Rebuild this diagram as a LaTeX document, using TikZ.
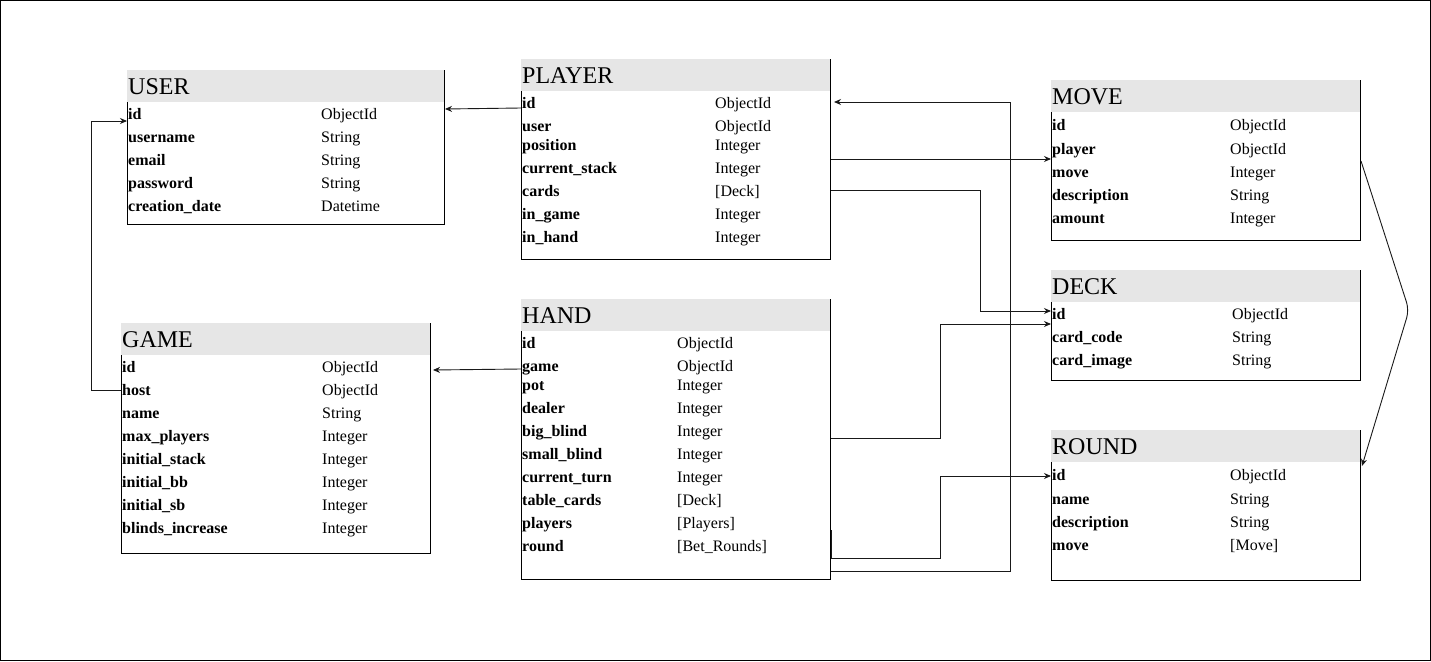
\documentclass[tikz,border=0pt]{standalone}
\usepackage{fontspec}
\setmainfont{Liberation Serif}
\usetikzlibrary{arrows.meta}
\definecolor{hdrgray}{RGB}{230,230,230}
\tikzset{
  hdr/.style={fill=hdrgray},
  box/.style={draw=black,line width=1pt},
  ttl/.style={inner sep=0pt,anchor=base west,font=\fontsize{24}{27}\selectfont},
  fname/.style={inner sep=0pt,anchor=base west,font=\fontsize{16}{19}\selectfont\bfseries},
  ftype/.style={inner sep=0pt,anchor=base west,font=\fontsize{16}{19}\selectfont},
  conn/.style={draw=black!90,line width=0.9pt,-{Stealth[length=7pt,width=6pt]}},
  plain/.style={draw=black!90,line width=0.9pt}
}
\newcommand\ertable[6]{%
  \fill[hdr] (#2,#3) rectangle (#4,#3+32);
  \node[ttl] (#1-title) at (#2+1,#3+24) {#6};
  \draw[box] (#2,#3+32) -- (#2,#5) -- (#4,#5) -- (#4,#3);
}
\newcommand\erfields[4]{%
  \foreach \n/\t/\y [count=\i] in {#4} {
    \node[fname] (#1-n\i) at (#2,\y) {\n};
    \node[ftype] (#1-t\i) at (#3,\y) {\t};
  }
}
\begin{document}
\begin{tikzpicture}[x=1pt,y=-1pt]
\useasboundingbox (0,0) rectangle (1431,661);
\draw[black,line width=1pt] (0.5,0.5) rectangle (1430.5,660.5);

% USER
\ertable{user}{127}{70}{444}{224}{USER}
\erfields{user}{128}{321}{id/ObjectId/119, username/String/142, email/String/165, password/String/188, creation\_date/Datetime/211}

% PLAYER
\ertable{player}{521}{59}{830}{259}{PLAYER}
\erfields{player}{522}{715}{id/ObjectId/108, user/ObjectId/131, position/Integer/150, current\_stack/Integer/173, cards/{[Deck]}/196, in\_game/Integer/219, in\_hand/Integer/242}

% MOVE
\ertable{move}{1051}{80}{1360}{240}{MOVE}
\erfields{move}{1052}{1230}{id/ObjectId/130, player/ObjectId/154, move/Integer/177, description/String/200, amount/Integer/223}

% DECK
\ertable{deck}{1051}{270}{1360}{380}{DECK}
\erfields{deck}{1052}{1232}{id/ObjectId/319, card\_code/String/342, card\_image/String/365}

% ROUND
\ertable{round}{1051}{430}{1360}{580}{ROUND}
\erfields{round}{1052}{1230}{id/ObjectId/480, name/String/504, description/String/527, move/{[Move]}/550}

% GAME
\ertable{game}{121}{323}{430}{553}{GAME}
\erfields{game}{122}{322}{id/ObjectId/372, host/ObjectId/395, name/String/418, max\_players/Integer/441, initial\_stack/Integer/464, initial\_bb/Integer/487, initial\_sb/Integer/510, blinds\_increase/Integer/533}

% HAND
\ertable{hand}{521}{299}{830}{579}{HAND}
\erfields{hand}{522}{677}{id/ObjectId/348, game/ObjectId/371, pot/Integer/390, dealer/Integer/413, big\_blind/Integer/436, small\_blind/Integer/459, current\_turn/Integer/482, table\_cards/{[Deck]}/505, players/{[Players]}/528, round/{[Bet\_Rounds]}/551}

% connector end points
\coordinate (player-out-user) at (521,108);
\coordinate (user-in-player) at (445,109);
\coordinate (hand-out-game) at (521,369);
\coordinate (game-in-hand) at (433,370);
\coordinate (game-out-host) at (121,390);
\coordinate (user-in-id) at (127,121);
\coordinate (hand-out-player) at (831,571);
\coordinate (player-in-id) at (834,102);
\coordinate (player-out-move) at (831,159);
\coordinate (move-in-player) at (1051,159);
\coordinate (player-out-cards) at (831,190);
\coordinate (deck-in-id) at (1051,311);
\coordinate (hand-out-deck) at (831,438);
\coordinate (deck-in-2) at (1051,324);
\coordinate (hand-out-round) at (831,530);
\coordinate (round-in-id) at (1051,476);
\coordinate (move-out-round) at (1361,161);
\coordinate (round-in-move) at (1362,466);

\draw[conn] (player-out-user) -- (user-in-player);
\draw[conn] (hand-out-game) -- (game-in-hand);
\draw[conn] (game-out-host) -- (91,390) -- (91,121) -- (user-in-id);
\draw[conn] (hand-out-player) -- (1010,571) -- (1010,102) -- (player-in-id);
\draw[conn] (player-out-move) -- (move-in-player);
\draw[conn] (player-out-cards) -- (980,190) -- (980,311) -- (deck-in-id);
\draw[conn] (hand-out-deck) -- (940,438) -- (940,324) -- (deck-in-2);
\draw[conn] (hand-out-round) -- (831,558) -- (940,558) -- (940,476) -- (round-in-id);
\draw[conn,rounded corners=8pt] (move-out-round) -- (1409,310) -- (round-in-move);
\end{tikzpicture}
\end{document}
